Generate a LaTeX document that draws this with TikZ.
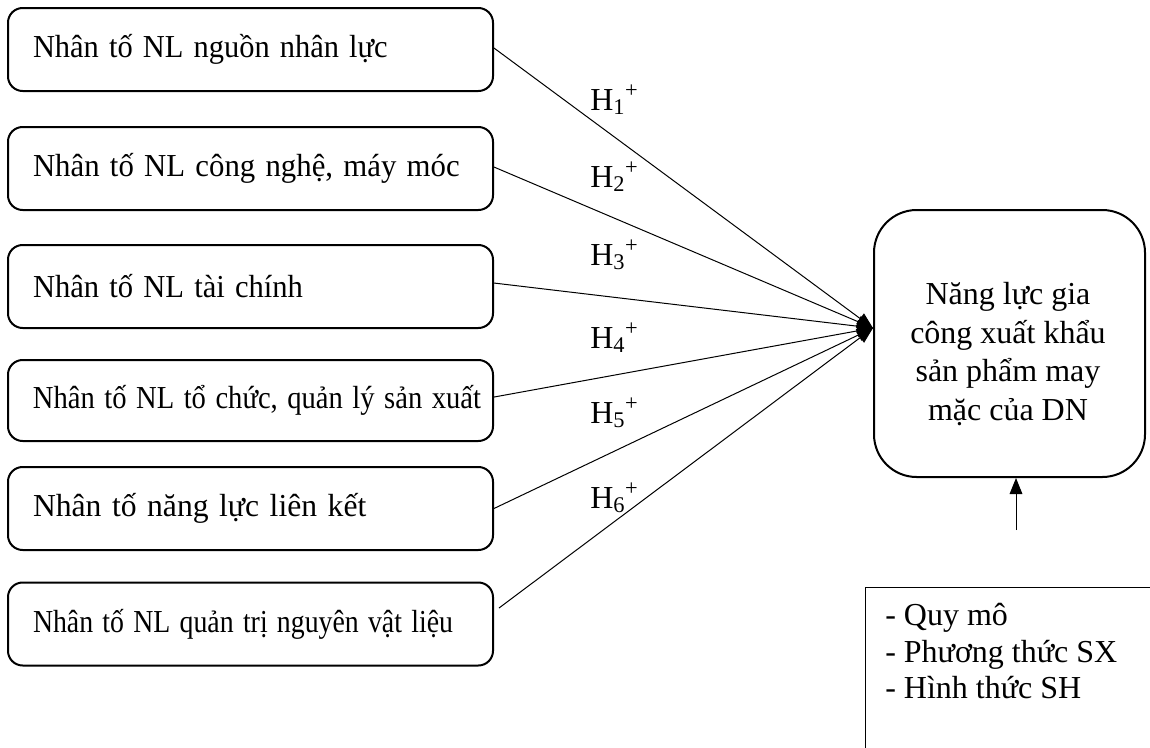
\documentclass[tikz,border=0pt]{standalone}
\usepackage{fontspec}
\setmainfont{Liberation Serif}
\usepackage{graphicx}
\usetikzlibrary{arrows.meta}
% set a factor name on one line at a given width, keeping its height
\newcommand{\fitline}[2]{\resizebox{#1}{\height}{#2}}
\begin{document}
\begin{tikzpicture}[x=0.75pt,y=-0.75pt,
  every node/.style={font=\fontsize{24}{29}\selectfont},
  factor/.style={draw, line width=1.5pt, rounded corners=11pt,
    minimum width=363.75pt, minimum height=62.25pt,
    text width=326.25pt, inner xsep=18.75pt, align=left},
  goalbox/.style={draw, line width=1.5pt, rounded corners=32pt,
    minimum width=203.25pt, minimum height=200.25pt, inner sep=0pt},
  ctlbox/.style={draw, line width=0.75pt, anchor=north west,
    minimum width=300pt, minimum height=200pt, inner sep=0pt},
  hyp/.style={anchor=base west, inner sep=0pt},
  link/.style={line width=0.75pt, -{Triangle[length=12pt,width=9.5pt]}}
]
\useasboundingbox (0,0) rectangle (1150,747);
\clip (0,0) rectangle (1150,747);

% factor boxes on the left
\node[factor] (f1) at (250.5,49.5) {\fitline{266pt}{Nhân tố NL nguồn nhân lực}};
\node[factor] (f2) at (250.5,168.5) {\fitline{320pt}{Nhân tố NL công nghệ, máy móc}};
\node[factor] (f3) at (250.5,286.5) {\fitline{202.5pt}{Nhân tố NL tài chính}};
\node[factor, minimum height=60.75pt] (f4) at (250.5,400.5)
  {\fitline{336pt}{Nhân tố NL tổ chức, quản lý sản xuất}};
\node[factor] (f5) at (250.5,508.5) {\fitline{250pt}{Nhân tố năng lực liên kết}};
\node[factor] (f6) at (250.5,624)
  {\fitline{315pt}{Nhân tố NL quản trị nguyên vật liệu}};

% outcome box
\node[goalbox] (goal) at (1009.5,343.5) {};
\node[align=center, inner sep=0pt, font=\fontsize{24}{28.9}\selectfont]
  (goaltext) at (1008,354)
  {Năng lực gia\\công xuất khẩu\\sản phẩm may\\mặc của DN};

% control variables box (open to the right and bottom)
\node[ctlbox] (ctl) at (865,587) {};
\node[anchor=north west, align=left, inner sep=0pt,
  font=\fontsize{24}{27.4}\selectfont] (ctltext) at (885,603)
  {- Quy mô\\- Phương thức SX\\- Hình thức SH};

% hypothesis labels
\node[hyp] (h1) at (590,110) {H\textsubscript{1}\textsuperscript{+}};
\node[hyp] (h2) at (590,187) {H\textsubscript{2}\textsuperscript{+}};
\node[hyp] (h3) at (590,265) {H\textsubscript{3}\textsuperscript{+}};
\node[hyp] (h4) at (590,348) {H\textsubscript{4}\textsuperscript{+}};
\node[hyp] (h5) at (590,423) {H\textsubscript{5}\textsuperscript{+}};
\node[hyp] (h6) at (590,508) {H\textsubscript{6}\textsuperscript{+}};

% connectors
\coordinate (hub) at ([yshift=11.6pt]goal.west);
\coordinate (f6out) at (499,608);
\coordinate (ctlsrc) at (1016,530);
\draw[link] ([yshift=1.1pt]f1.east) -- (hub);
\draw[link] ([yshift=1.1pt]f2.east) -- (hub);
\draw[link] ([yshift=2.6pt]f3.east) -- (hub);
\draw[link] ([yshift=2.6pt]f4.east) -- (hub);
\draw[link] (f5.east) -- (hub);
\draw[link] (f6out) -- (hub);
\draw[link] (ctlsrc) -- (ctlsrc |- goal.south);
\end{tikzpicture}
\end{document}
